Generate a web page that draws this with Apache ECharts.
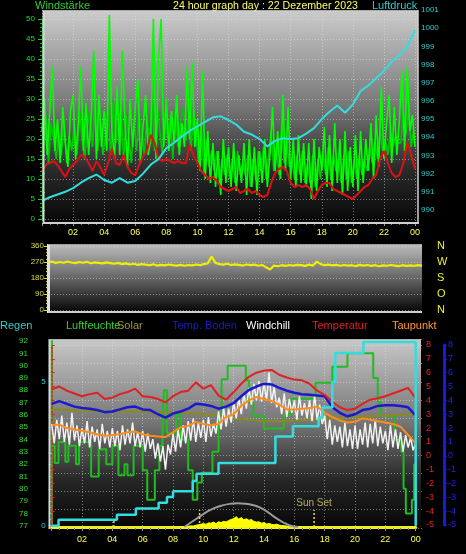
<!DOCTYPE html>
<html><head><meta charset="utf-8">
<script src="https://cdn.jsdelivr.net/npm/echarts@6/dist/echarts.min.js"></script>
<style>html,body{margin:0;padding:0;background:#000;}#c{width:466px;height:554px;}</style>
</head><body><div id="c"></div>
<script>
// ---------- DATA ----------
const hourLabels = ['', '02', '04', '06', '08', '10', '12', '14', '16', '18', '20', '22', '00'];
const compassLabels = ['N', 'O', 'S', 'W', 'N'];
const titleText = '24 hour graph day : 22 Dezember 2023';

// Panel 1: wind gust (every 10 min, from 00:00)
const windGust = [
 22,30,16,27,38,17, 25,14,28,19,13,27, 31,15,24,38,17,29, 16,26,42,15,31,18,
 27,17,51,22,15,33, 16,42,25,13,30,18, 28,35,14,23,31,16, 20,50,15,40,50,18,
 30,17,27,19,31,16, 24,18,38,20,39,18, 25,12,37,10,22,9, 19,8,17,6,20,9,
 18,8,19,7,16,9, 19,6,20,8,18,6, 17,9,20,8,16,28, 12,22,10,31,12,28,
 10,20,8,21,9,19, 8,19,5,20,7,18, 12,23,8,21,7,24, 9,20,6,22,7,18,
 8,21,7,22,9,20, 12,24,10,26,13,33, 15,24,31,14,28,16, 25,37,17,38,22,26, 18];
// wind speed (every 10 min, from 00:05)
const windSpeed = [
 18,26,14,24,20,15, 22,16,25,14,21,17, 24,16,27,20,15,23, 27,18,30,17,25,16,
 21,28,16,30,19,24, 28,15,26,20,14,25, 17,27,22,16,26,19, 30,17,28,22,16,27,
 20,26,15,28,18,24, 28,20,26,17,27,21, 14,24,11,20,13,17, 12,17,9,15,11,16,
 10,15,9,17,11,14, 11,16,8,15,10,17, 12,18,10,16,22,12, 18,11,24,14,20,13,
 15,10,16,11,17,9, 14,9,16,8,15,10, 17,11,18,10,16,12, 15,9,16,10,17,9,
 15,10,16,11,15,12, 18,14,20,15,22,17, 20,16,22,18,21,19, 19,27,21,28,18,22];
// wind average (every 15 min)
const windAvg = [
 12,13.5,14,14.5, 13.5,12,10.5,12.5, 13.5,14.5,16,15.5, 14,12,14.5,13,
 11,14,17.5,14, 13.5,16,13,11.5, 11,13.5,15.5,17, 21,19,15,14.5,
 15,14.5,14,14.5, 14,14,18.5,16, 14,12,11,10, 10.5,9.5,8,7.5,
 7,7.5,8,6.5, 7,7.5,6.5,7, 6,5.5,6,9, 11.5,12.5,13,12,
 9,8,8.5,8, 8.5,7.5,5,7, 8.5,9,9,7.5, 7,6.5,6,5.5,
 5,6,7,8, 8.5,10,11,15, 17,14,11.5,10.5, 11,14,19,16, 12.5];
// pressure hPa (every 30 min)
const pressure = [990.5,990.7,990.85,991.0,991.2,991.5,991.75,991.95,991.65,991.5,991.75,991.5,
 991.6,992.0,992.5,992.8,993.4,993.7,994.05,994.35,994.6,994.85,995.1,995.15,
 994.95,994.7,994.3,994.15,993.9,993.5,993.8,993.95,993.9,993.95,994.2,994.5,
 995.0,995.4,995.75,995.35,995.8,996.55,996.85,997.25,997.65,998.15,998.5,999.0,999.9];

// Panel 2: wind direction (every 15 min)
const windDir = [268,272,265,270,266,273,267,264,270,
 266,271,263,268,265,262,268,264, 260,265,258,262,256,260,254,258,
 255,252,257,250,254,251,256,252, 250,254,249,253,251,256,252,258,
 262,300,265,258,255,260,253,257, 254,250,256,252,255,249,253,240,
 228,250,246,252,248,253,250,254, 252,248,255,250,272,258,252,255,
 251,254,249,253,250,252,247,254, 250,253,248,252,246,251,249,253,
 250,247,252,248,251,249,252,250];

// Panel 3
const rainT = [0,0.45,4.3,5.55,7.05,7.6,8.0,9.3,9.55,11.0,14.75,15.9,17.6,17.85,18.5,18.7,20.55,24.0];
const rainV = [0,0.21,0.38,0.6,0.8,1.0,1.2,1.55,1.8,2.18,3.1,3.45,3.75,4.1,5.0,6.0,6.38,0];
const humT = [0,0.2,0.45,0.9,1.1,1.6,1.8,2.6,3.1,3.6,4.0,4.4,4.8,5.0,5.4,6.0,6.3,6.8,7.1,7.3,
 7.4,7.6,8.2,8.5,9.0,9.3,9.6,9.9,10.6,11.0,11.2,11.6,12.8,13.0,13.3,14.0,15.3,15.8,17.4,18.5,
 19.5,21.2,21.5,21.7,22.6,23.05,23.2,23.35,23.75,23.9,24.0];
const humV = [83.5,82.1,83.8,82.2,83.5,82.0,83.8,81.0,83.2,82.0,83.5,81.1,82.0,81.1,83.5,81.5,79.1,81.5,83.5,85.5,
 88.0,84.5,86.0,84.0,81.5,79.1,80.5,81.3,83.0,86.0,88.9,90.0,88.8,87.0,85.9,84.9,86.0,87.3,88.6,89.9,
 91.0,89.0,87.0,85.9,84.0,83.0,80.0,78.0,79.1,82.0,82.0];
// temperatures every 30 min
const tempV = [4.8,5.0,4.7,4.5,4.3,4.45,4.55,4.1,4.2,4.45,4.6,4.85,4.3,4.25,4.1,3.85,4.3,4.6,4.7,5.3,
 4.85,5.1,4.35,4.05,4.6,5.2,5.7,6.0,6.15,6.2,5.85,5.65,5.5,5.45,5.2,4.7,4.4,3.9,3.5,3.3,
 3.4,3.75,4.05,4.15,4.3,4.5,4.7,4.9,4.15];
const soilV = [3.75,3.95,3.75,3.55,3.45,3.4,3.3,3.15,3.2,3.35,3.5,3.55,3.35,3.3,3.0,2.75,3.05,3.2,3.4,3.75,
 3.7,3.6,3.4,3.55,3.8,4.3,4.75,5.0,5.2,5.15,4.9,4.7,4.55,4.45,4.4,4.35,4.3,3.5,3.1,2.85,
 3.0,3.3,3.4,3.6,3.65,3.65,3.6,3.5,2.9];
const dewV = [2.2,2.25,2.0,1.9,1.8,1.7,1.55,1.45,1.5,1.55,1.7,1.75,1.55,1.45,1.4,1.35,1.7,2.05,2.15,2.45,
 2.3,2.2,2.3,2.8,3.0,3.6,4.0,4.25,4.1,3.95,3.7,3.35,3.35,3.4,3.45,3.55,3.1,2.8,2.55,2.4,
 2.45,2.7,2.6,2.5,2.4,2.3,2.1,1.5,0.9];
// olive line, hourly
const oliveV = [3.3,3.3,3.25,3.25,3.2,3.2,3.2,3.15,3.1,3.1,3.0,2.9,2.7,2.6,2.5,2.5,2.55,2.6,2.65,2.75,2.8,2.85,2.9,2.95,3.0];
// windchill every 10 min
const chillV = [
 2.3,0.9,2.6,1.2,2.9,1.0, 2.4,0.8,3.1,1.1,2.2,0.7, 2.0,0.9,2.5,0.6,2.1,1.0, 1.9,0.5,2.3,0.9,1.8,0.6,
 2.0,0.7,1.8,0.4,2.2,0.8, 1.9,0.9,2.4,0.7,1.7,0.6, 1.8,0.3,1.6,0.5,1.2,-0.2, 0.9,-0.4,0.7,-1.0,0.8,0.1,
 1.6,0.3,1.9,0.6,2.2,0.9, 2.5,1.1,2.7,1.0,2.4,1.3, 2.6,1.0,2.8,1.4,2.3,1.6, 3.2,1.9,3.5,2.1,3.4,2.4,
 3.9,2.7,4.2,3.0,4.5,3.4, 4.9,3.7,5.2,4.0,5.4,3.9, 5.3,4.0,6.0,3.8,5.0,3.5, 4.2,3.0,4.5,2.8,4.1,3.1,
 4.0,2.6,4.3,2.9,3.8,2.7, 4.0,2.5,4.4,2.6,3.7,2.3, 2.9,1.2,2.6,0.8,2.2,1.0, 2.1,0.6,2.4,0.7,1.9,0.5,
 2.2,0.5,1.9,0.8,2.4,0.6, 2.3,0.9,2.6,0.7,2.1,0.9, 1.8,0.4,2.2,0.6,1.9,0.5, 1.7,0.3,1.5,0.6,1.3,0.4, 0.9];
// solar radiation every 10 min from 08:30
const solarStart = 8.5;
const solarV = [0,0,2,4,6,5,9,12,15,18,14,22,20,26,18,28,24,30,27,35,40,45,55,42,50,38,44,36,40,30,
 26,28,20,24,16,19,14,12,15,10,8,7,5,4,2,1,0,0,0];
// theoretical sun curve every 30 min from 08:45
const sunStart = 8.75;
const sunV = [0,28,55,82,102,115,123,126,124,117,103,79,50,25,7,0];
// sun markers
const sunMarkT = [4.1, 9.75, 17.3];
const sunMarkH = [42, 90, 90];
const sunMarkText = ['', '', 'Sun Set'];

// ---------- CHART ----------
const pairs = (start, step, arr) => arr.map((v, i) => [start + i * step, v]);
const zip = (ts, vs) => ts.map((t, i) => [t, vs[i]]);
const F = '"Liberation Sans", Arial, sans-serif';
const dotted = {show: true, lineStyle: {color: 'rgba(225,225,225,0.5)', type: [1, 2], width: 1}};
const grids = [
  {left: 42, top: 10, width: 373, height: 213},      // 0 p1 frame
  {left: 42, top: 19, width: 373, height: 200},      // 1 wind
  {left: 42, top: 10, width: 373, height: 200},      // 2 pressure
  {left: 48, top: 246, width: 374, height: 64},      // 3 direction
  {left: 51.7, top: 339, width: 364, height: 189},   // 4 p3 frame
  {left: 49, top: 339, width: 373, height: 189},     // 5 p3 horiz lines
  {left: 51.7, top: 341, width: 364, height: 184.7}, // 6 humidity
  {left: 51.7, top: 345.7, width: 364, height: 180}, // 7 rain
  {left: 51.7, top: 345, width: 364, height: 180},   // 8 temps
  {left: 51.7, top: 339, width: 364, height: 188}    // 9 solar
].map(g => Object.assign({containLabel: false, outerBoundsMode: 'none'}, g));

const hx = (i) => ({type: 'value', gridIndex: i, min: 0, max: 24, show: false});
const labelX = (i, margin) => ({
  type: 'value', gridIndex: i, min: 0, max: 24, interval: 2, show: true,
  axisLine: {show: false},
  axisTick: {show: true, length: 3, lineStyle: {color: '#999'}},
  minorTick: {show: true, splitNumber: 4, length: 2, lineStyle: {color: '#777'}},
  splitLine: dotted,
  axisLabel: {color: '#ffff55', fontSize: 9, fontFamily: F, margin, hideOverlap: false,
    formatter: v => hourLabels[Math.round(v / 2)] || ''}
});
const xAxes = [
  labelX(0, 5), hx(1), hx(2), hx(3), labelX(4, 7),
  {type: 'value', gridIndex: 5, min: 0, max: 1, show: false},
  hx(6), hx(7), hx(8),
  {type: 'value', gridIndex: 9, min: 0, max: 24, show: true, axisLine: {show: true, onZero: false, lineStyle: {color: '#eeee22', width: 3}},
   axisTick: {show: false}, axisLabel: {show: false}, splitLine: {show: false}}
];

const yAxes = [
  {type: 'value', gridIndex: 0, min: 0, max: 1, show: false},
  {type: 'value', gridIndex: 1, min: 0, max: 50, interval: 5, position: 'left', offset: 2,
   axisLine: {show: true, lineStyle: {color: '#11bb11'}},
   axisTick: {show: true, length: 4, lineStyle: {color: '#22cc22'}},
   minorTick: {show: true, splitNumber: 5, length: 2, lineStyle: {color: '#22aa22'}},
   axisLabel: {color: '#22dd22', fontSize: 8, fontFamily: F, margin: 5, hideOverlap: false},
   splitLine: dotted},
  {type: 'value', gridIndex: 2, min: 990, max: 1001, interval: 1, position: 'right', offset: 2,
   axisLine: {show: false},
   axisTick: {show: true, length: 3, lineStyle: {color: '#33cccc'}},
   minorTick: {show: true, splitNumber: 2, length: 2, lineStyle: {color: '#33aaaa'}},
   axisLabel: {color: '#33cccc', fontSize: 8, fontFamily: F, margin: 4, hideOverlap: false,
     formatter: v => String(Math.round(v))},
   splitLine: {show: false}},
  {type: 'value', gridIndex: 3, min: 0, max: 360, interval: 90, position: 'left', offset: 1,
   axisLine: {show: false},
   axisTick: {show: true, length: 4, lineStyle: {color: '#dddd33'}},
   minorTick: {show: true, splitNumber: 5, length: 2, lineStyle: {color: '#bbbb33'}},
   axisLabel: {color: '#dddd44', fontSize: 8, fontFamily: F, margin: 3, hideOverlap: false},
   splitLine: dotted},
  {type: 'value', gridIndex: 3, min: 0, max: 360, interval: 90, position: 'right',
   axisLine: {show: false}, axisTick: {show: false}, splitLine: {show: false},
   axisLabel: {color: '#eeee33', fontSize: 11, fontFamily: F, margin: 15, hideOverlap: false,
     formatter: v => compassLabels[Math.round(v / 90)]}},
  {type: 'value', gridIndex: 4, min: 0, max: 1, show: false},
  {type: 'value', gridIndex: 5, min: 0, max: 10.356, interval: 1,
   axisLine: {show: false}, axisTick: {show: false}, axisLabel: {show: false}, splitLine: dotted},
  {type: 'value', gridIndex: 6, min: 77, max: 92, interval: 1, position: 'left', offset: 21.7,
   axisLine: {show: true, lineStyle: {color: '#22cc22', width: 2}},
   axisTick: {show: true, length: 3, lineStyle: {color: '#22cc22'}},
   minorTick: {show: true, splitNumber: 2, length: 2, lineStyle: {color: '#22aa22'}},
   axisLabel: {color: '#33dd33', fontSize: 8, fontFamily: F, margin: 2, hideOverlap: false},
   splitLine: {show: false}},
  {type: 'value', gridIndex: 7, min: 0, max: 6.25, interval: 1.25, position: 'left', offset: 3,
   axisLine: {show: false},
   axisTick: {show: true, length: 3, lineStyle: {color: '#33cccc'}},
   axisLabel: {color: '#33cccc', fontSize: 8, fontFamily: F, margin: 3, hideOverlap: false,
     formatter: v => (v === 0 || v === 5) ? String(v) : ''},
   splitLine: {show: false}},
  {type: 'value', gridIndex: 8, min: -5, max: 8, interval: 1, position: 'right', offset: 5.3,
   axisLine: {show: true, lineStyle: {color: '#dd2222', type: [2, 2], width: 1.5}},
   axisTick: {show: true, length: 3, lineStyle: {color: '#dd2222'}},
   axisLabel: {color: '#ee2222', fontSize: 9, fontFamily: F, margin: 5, hideOverlap: false},
   splitLine: {show: false}},
  {type: 'value', gridIndex: 8, min: -5, max: 8, interval: 1, position: 'right', offset: 28.3,
   axisLine: {show: true, lineStyle: {color: '#1a1add', width: 3}},
   axisTick: {show: true, length: 3, lineStyle: {color: '#1a1add'}},
   axisLabel: {color: '#2222ee', fontSize: 9, fontFamily: F, margin: 4, hideOverlap: false},
   splitLine: {show: false}},
  {type: 'value', gridIndex: 9, min: 0, max: 1000, show: false}
];

const ln = (name, xi, yi, data, color, width, extra) => Object.assign({
  name, type: 'line', xAxisIndex: xi, yAxisIndex: yi, data, showSymbol: false, symbol: 'none',
  clip: false, silent: true, animation: false,
  lineStyle: {color, width}
}, extra || {});

const series = [
  ln('Wind', 1, 1, pairs(1 / 12, 1 / 6, windSpeed), '#00c800', 1.6),
  ln('Böen', 1, 1, pairs(0, 1 / 6, windGust), '#00ff00', 1.6),
  ln('Mittel', 1, 1, pairs(0, 0.25, windAvg), '#dd1111', 2),
  ln('Luftdruck', 2, 2, pairs(0, 0.5, pressure), '#33dddd', 2),
  ln('Richtung', 3, 3, pairs(0, 0.25, windDir), '#eeee00', 2.2),
  ln('Solar', 9, 11, pairs(solarStart, 1 / 6, solarV), '#ffff00', 1, {areaStyle: {color: '#ffff00', opacity: 1}}),
  ln('Sonne', 9, 11, pairs(sunStart, 0.5, sunV), '#9a9a9a', 2, {smooth: true})
];
sunMarkT.forEach((t, i) => {
  series.push(ln('mark' + i, 9, 11, [[t, 0], [t, sunMarkH[i]]], '#e6d84a', 1.5, {lineStyle: {color: '#e6d84a', width: 1.5, type: [2, 2]}}));
  if (sunMarkText[i]) {
    series.push({type: 'scatter', xAxisIndex: 9, yAxisIndex: 11, data: [[t, sunMarkH[i]]], symbolSize: 1,
      itemStyle: {color: 'rgba(0,0,0,0)'}, silent: true, animation: false,
      label: {show: true, position: 'top', distance: 1, formatter: sunMarkText[i], color: '#d8d070', fontSize: 10, fontFamily: F}});
  }
});
series.push(
  ln('Luftfeuchte', 6, 7, zip(humT, humV), '#22bb22', 2, {step: 'end'}),
  ln('SolarLine', 8, 9, pairs(0, 1, oliveV), '#8a8a1e', 2),
  ln('Windchill', 8, 9, pairs(0, 1 / 6, chillV), '#f2f2f2', 1.5),
  ln('Taupunkt', 8, 9, pairs(0, 0.5, dewV), '#ff8c1a', 2),
  ln('Temp. Boden', 8, 9, pairs(0, 0.5, soilV), '#1a1acc', 2.5),
  ln('Temperatur', 8, 9, pairs(0, 0.5, tempV), '#dd2222', 2),
  ln('Regen', 7, 8, zip(rainT, rainV), '#33dddd', 2.5, {step: 'end'})
);

const grad = (stops) => ({type: 'linear', x: 0, y: 0, x2: 0, y2: 1, colorStops: stops.map(s => ({offset: s[0], color: s[1]}))});
const bg1 = grad([[0, '#cccccc'], [0.45, '#777777'], [0.75, '#2a2a2a'], [1, '#070707']]);
const bg2 = grad([[0, '#bdbdbd'], [0.5, '#666666'], [1, '#050505']]);
const bg3 = grad([[0, '#c8c8c8'], [0.45, '#747474'], [0.75, '#262626'], [1, '#060606']]);
const txt = (x, y, text, fill, size) => ({type: 'text', x, y, z: 20, silent: true,
  style: {text, fill, font: (size || 11) + 'px ' + F, verticalAlign: 'middle', align: 'left'}});
const line = (x1, y1, x2, y2, stroke, w) => ({type: 'line', z: 10, silent: true, shape: {x1, y1, x2, y2}, style: {stroke, lineWidth: w}});

const graphic = [
  {type: 'rect', z: -10, silent: true, shape: {x: 43, y: 10, width: 375, height: 213}, style: {fill: bg1}},
  {type: 'rect', z: -10, silent: true, shape: {x: 48, y: 244, width: 374, height: 68}, style: {fill: bg2}},
  {type: 'rect', z: -10, silent: true, shape: {x: 49, y: 339, width: 372, height: 189}, style: {fill: bg3}},
  line(43.5, 10, 43.5, 224, '#d8d8d8', 2), line(43, 223, 419, 223, '#d0d0d0', 2),
  line(43, 10.5, 418, 10.5, '#aaaaaa', 1), line(418, 10, 418, 224, '#d0d0d0', 1.5),
  line(48.5, 244, 48.5, 313, '#e0e0e0', 3), line(48, 312, 422, 312, '#cfcfcf', 2), line(48, 244.5, 422, 244.5, '#a0a0a0', 1),
  line(49.5, 339, 49.5, 529, '#d8d8d8', 2), line(49, 339.5, 421, 339.5, '#b0b0b0', 1),
  txt(35, 6, 'Windstärke', '#33cc33'),
  txt(173, 6, titleText, '#ffff66', 10.6),
  txt(372, 6, 'Luftdruck', '#33cccc'),
  txt(0, 326, 'Regen', '#33cccc'),
  txt(66, 326, 'Luftfeuchte', '#33cc33'),
  txt(117, 326, 'Solar', '#999933'),
  txt(172, 326, 'Temp. Boden', '#1a1acc'),
  txt(246, 326, 'Windchill', '#ffffff'),
  txt(312, 326, 'Temperatur', '#e02020'),
  txt(392, 326, 'Taupunkt', '#ff9933')
];

const chart = echarts.init(document.getElementById('c'), null, {renderer: 'canvas'});
chart.setOption({
  backgroundColor: '#000000',
  animation: false,
  grid: grids,
  xAxis: xAxes,
  yAxis: yAxes,
  series,
  graphic
});
</script></body></html>
